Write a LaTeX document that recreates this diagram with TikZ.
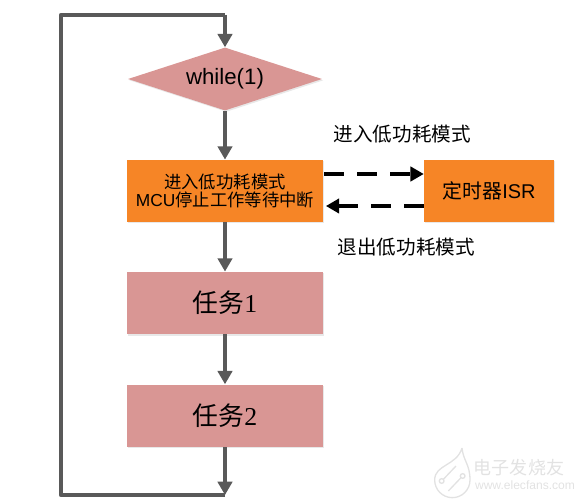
\documentclass[tikz,border=0pt]{standalone}
\usepackage{fontspec}
\usepackage{xcolor}
\usetikzlibrary{shapes.geometric, arrows.meta, positioning, calc, shadows}
\setmainfont{Liberation Sans}
\newfontfamily\cjk{Noto Sans CJK SC}
\newfontfamily\serifdigit{Liberation Serif}
\definecolor{rosebox}{RGB}{217,150,148}
\definecolor{orangebox}{RGB}{246,133,38}
\definecolor{flowgray}{RGB}{89,89,89}
\definecolor{markgray}{RGB}{226,226,226}
\tikzset{
  softshadow/.style={drop shadow={opacity=0.18, shadow xshift=0.04cm, shadow yshift=-0.04cm}},
  flowarrow/.style={draw=flowgray, line width=1.4mm, -{Triangle[length=4mm, width=4.3mm]}},
  flowline/.style={draw=flowgray, line width=1.4mm},
  dasharrow/.style={draw=black, line width=1.1mm, dash pattern=on 6mm off 3.9mm, -{Triangle[length=4mm, width=4.3mm]}},
  rosetask/.style={fill=rosebox, softshadow, minimum width=5.88cm, minimum height=1.87cm, inner sep=0pt},
  orangetask/.style={fill=orangebox, softshadow, minimum height=1.87cm, inner sep=0pt},
  notetext/.style={font=\cjk\fontsize{16.7}{18}\selectfont, inner sep=0pt},
}
\begin{document}
\begin{tikzpicture}
  \useasboundingbox (0,0) rectangle (17.46,15.03);

  % Watermark
  \node[font=\cjk\fontsize{15.4}{17}\selectfont, text=markgray, inner sep=0pt] (markname) at (15.57,0.99) {电子发烧友};
  \node[font=\fontsize{10.3}{12}\selectfont, text=markgray, inner sep=0pt] (markurl) at (15.75,0.48) {www.elecfans.com};
  \draw[markgray, line width=0.4mm, line join=round]
    (13.86,1.59) .. controls (13.9,1.2) and (14.1,1.1) .. (14.1,0.63)
    arc (0:-180:0.53) .. controls (13.04,1.1) and (13.7,1.05) .. (13.86,1.59);
  \draw[markgray, line width=0.4mm] (13.25,0.6) circle (0.07) (13.88,0.75) circle (0.07);
  \draw[markgray, line width=0.4mm] (13.3,0.65) -- (13.68,1.05) (13.83,0.7) -- (13.45,0.3);

  % Flow column
  \node[diamond, aspect=3.08, fill=rosebox, softshadow, minimum width=5.82cm, minimum height=1.89cm, inner sep=0pt,
        font=\fontsize{19}{22}\selectfont] (while) at (6.75,12.66) {while(1)};
  \node[orangetask, minimum width=5.88cm, align=center] (sleep) at (6.75,9.3)
    {\fontsize{14.8}{20}\selectfont\cjk 进入低功耗模式\\[1pt]\fontsize{14.8}{20}\selectfont\rmfamily MCU{\cjk 停止工作等待中断}};
  \node[rosetask, font=\fontsize{22}{24}\selectfont] (taskone) at (6.75,5.94) {{\cjk 任务}{\serifdigit 1}};
  \node[rosetask, font=\fontsize{22}{24}\selectfont] (tasktwo) at (6.75,2.56) {{\cjk 任务}{\serifdigit 2}};
  \node[orangetask, minimum width=3.9cm, font=\fontsize{17}{19}\selectfont] (isr) at (14.67,9.3) {{\cjk 定时器}ISR};

  % Loop corners
  \coordinate (loopend) at (6.75,0.18);
  \coordinate (loopleft) at (1.83,0.18);
  \coordinate (lefttop) at (1.83,14.58);
  \coordinate (looptop) at (6.75,14.58);

  \draw[flowarrow] (while) -- (sleep);
  \draw[flowarrow] (sleep) -- (taskone);
  \draw[flowarrow] (taskone) -- (tasktwo);
  \draw[flowarrow] (tasktwo) -- (loopend);
  \draw[flowline, line join=round] (loopend) -- (loopleft) -- (lefttop) -- (looptop);
  \draw[flowarrow] (looptop) -- (while);

  % Dashed links
  \draw[dasharrow] ($(sleep.east)+(0.03,0.51)$) -- ($(isr.west)+(0,0.51)$);
  \draw[dasharrow] ($(isr.west)+(0,-0.45)$) -- ($(sleep.east)+(0.08,-0.45)$);

  \node[notetext] (enter) at (12.07,11.02) {进入低功耗模式};
  \node[notetext] (leave) at (12.19,7.62) {退出低功耗模式};
\end{tikzpicture}
\end{document}
